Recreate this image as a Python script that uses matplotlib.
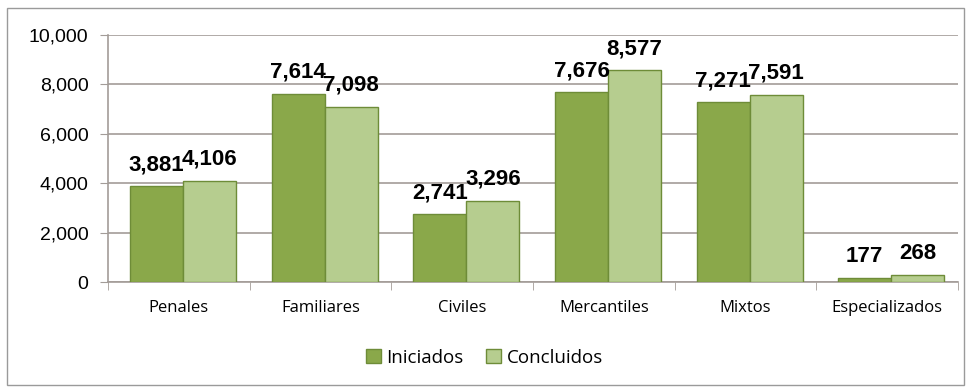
import matplotlib.pyplot as plt
import numpy as np
from matplotlib.patches import Rectangle

categorias = ["Penales", "Familiares", "Civiles", "Mercantiles", "Mixtos", "Especializados"]
iniciados = [3881, 7614, 2741, 7676, 7271, 177]
concluidos = [4106, 7098, 3296, 8577, 7591, 268]

verde_osc = "#8aa84a"
verde_cla = "#b6cd8f"
borde = "#6e8c38"
gris = "#a39c98"

fig = plt.figure(figsize=(9.69, 3.92), dpi=100)
ax = fig.add_axes([0.1115, 0.2806, 0.877, 0.630])

x = np.arange(len(categorias))
w = 0.375
b1 = ax.bar(x - w / 2 + 0.03, iniciados, w, color=verde_osc, edgecolor=borde, linewidth=1, label="Iniciados", zorder=3)
b2 = ax.bar(x + w / 2 + 0.03, concluidos, w, color=verde_cla, edgecolor=borde, linewidth=1, label="Concluidos", zorder=3)

for barras in (b1, b2):
    for r in barras:
        v = r.get_height()
        ax.annotate(f"{v:,}", (r.get_x() + r.get_width() / 2, v), xytext=(0, 8),
                    textcoords="offset points", ha="center", va="bottom",
                    fontsize=16, fontweight="bold", family="Liberation Sans", zorder=4)

ax.set_xlim(-0.5, len(categorias) - 0.5)
ax.set_ylim(0, 10000)
ax.set_yticks(np.arange(0, 10001, 2000))
ax.set_yticklabels([f"{v:,}" for v in range(0, 10001, 2000)], family="Liberation Sans", fontsize=14)
ax.yaxis.grid(True, color=gris, linewidth=1.2, zorder=0)

ax.set_xticks(x)
ax.set_xticklabels(categorias, family="Open Sans", fontsize=12)
ax.tick_params(axis="x", length=0, pad=13)
ax.tick_params(axis="y", length=6, color=gris, pad=8)
# marcas del eje x entre categorias
ax.set_xticks(np.arange(-0.5, len(categorias)), minor=True)
ax.tick_params(axis="x", which="minor", length=6, color=gris)

for s in ("top", "right"):
    ax.spines[s].set_visible(False)
ax.spines["left"].set_color(gris)
ax.spines["bottom"].set_color(gris)
ax.spines["left"].set_linewidth(1.2)
ax.spines["bottom"].set_linewidth(1.2)

fig.legend(handles=[b1, b2], loc="center", bbox_to_anchor=(0.5, 0.088), ncol=2, frameon=False,
           prop={"family": "Open Sans", "size": 13.5}, handlelength=0.8, handleheight=0.8,
           handletextpad=0.3, columnspacing=1.2)

# marco exterior
fig.patches.append(Rectangle((0.007, 0.018), 0.988, 0.962, transform=fig.transFigure,
                             fill=False, edgecolor="#9a9a9a", linewidth=1))

fig.savefig("out.png", dpi=100)
